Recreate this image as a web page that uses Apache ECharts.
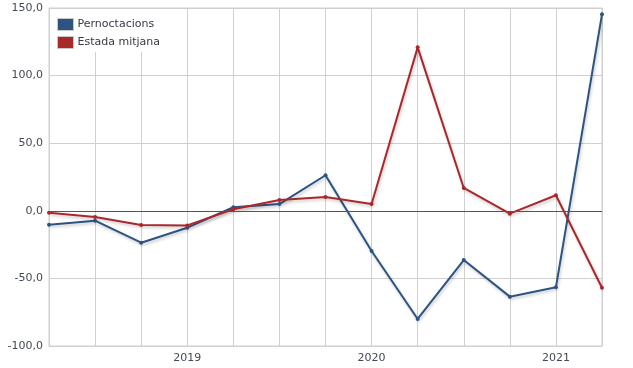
<!DOCTYPE html>
<html>
<head>
<meta charset="utf-8">
<script src="https://cdn.jsdelivr.net/npm/echarts@6/dist/echarts.min.js"></script>
<style>html,body{margin:0;padding:0;background:#fff;}#c{width:633px;height:368px;}</style>
</head>
<body>
<div id="c"></div>
<script>
var categories = ['2018T2','2018T3','2018T4','2019T1','2019T2','2019T3','2019T4','2020T1','2020T2','2020T3','2020T4','2021T1','2021T2'];
var pernoctacions = [-10.3, -7.3, -23.6, -12.5, 2.6, 5.0, 26.3, -29.7, -80.0, -36.4, -63.5, -56.6, 145.3];
var estadaMitjana = [-1.4, -4.6, -10.5, -10.8, 1.1, 8.0, 10.2, 5.0, 120.9, 16.9, -2.1, 11.5, -56.9];
var yTicks = {min: -100, max: 150, interval: 50};
var seriesNames = ['Pernoctacions', 'Estada mitjana'];

var chart = echarts.init(document.getElementById('c'), null, {renderer: 'canvas'});
var fontFamily = 'DejaVu Sans, Verdana, sans-serif';
function lineSeries(name, data, color, extra) {
  var s = {
    name: name, type: 'line', data: data,
    symbol: 'circle', symbolSize: 4,
    itemStyle: {color: color},
    lineStyle: {color: color, width: 2, shadowColor: 'rgba(0,0,0,0.22)', shadowBlur: 3, shadowOffsetX: 1, shadowOffsetY: 2},
    emphasis: {disabled: true},
    animation: false
  };
  for (var k in extra) s[k] = extra[k];
  return s;
}
chart.setOption({
  animation: false,
  color: ['#2d5381', '#a9282c'],
  grid: {left: 49, right: 31, top: 8, bottom: 22, containLabel: false, show: true, borderColor: '#d0d0d0', borderWidth: 1},
  legend: {
    orient: 'vertical', left: 50, top: 9,
    padding: [9, 6, 3, 7],
    itemGap: 5, itemWidth: 16, itemHeight: 12,
    icon: 'rect',
    backgroundColor: '#fff',
    itemStyle: {borderColor: '#c8c8c8', borderWidth: 1},
    textStyle: {fontFamily: fontFamily, fontSize: 11, color: '#3e3548', padding: [0, 0, 0, -1]},
    data: seriesNames
  },
  xAxis: {
    type: 'category', data: categories, boundaryGap: false,
    axisLine: {onZero: false, lineStyle: {color: '#d0d0d0'}},
    axisTick: {show: false},
    splitLine: {show: true, lineStyle: {color: '#d0d0d0', width: 1}},
    axisLabel: {
      interval: 0, margin: 7, fontFamily: fontFamily, fontSize: 11, color: '#444a55',
      formatter: function (v) { return v.slice(4) === 'T1' ? v.slice(0, 4) : ''; }
    }
  },
  yAxis: {
    type: 'value', min: yTicks.min, max: yTicks.max, interval: yTicks.interval,
    axisLine: {show: true, lineStyle: {color: '#d0d0d0'}},
    axisTick: {show: false},
    splitLine: {show: true, lineStyle: {color: '#d0d0d0', width: 1}},
    axisLabel: {
      margin: 6, fontFamily: fontFamily, fontSize: 11, color: '#444a55',
      formatter: function (v) { return v.toFixed(1).replace('.', ','); }
    }
  },
  series: [
    lineSeries(seriesNames[0], pernoctacions, '#2d5381', {
      markLine: {
        silent: true, symbol: 'none', animation: false,
        label: {show: false},
        lineStyle: {color: '#555', width: 1, type: 'solid', shadowBlur: 0, shadowOffsetX: 0, shadowOffsetY: 0},
        data: [{yAxis: 0}]
      }
    }),
    lineSeries(seriesNames[1], estadaMitjana, '#a9282c', {})
  ]
});
</script>
</body>
</html>
